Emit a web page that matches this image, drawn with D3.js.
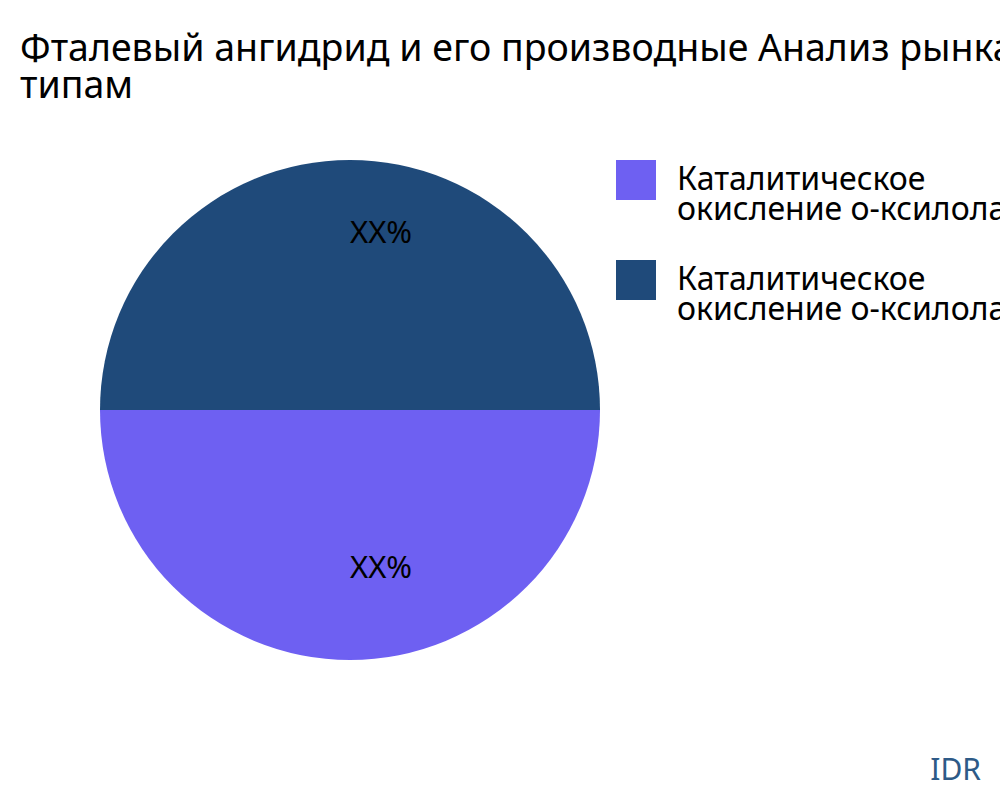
<!DOCTYPE html>
<html>
<head>
<meta charset="utf-8">
<script src="https://cdn.jsdelivr.net/npm/d3@7"></script>
<style>
  body { margin: 0; background: #fff; }
  svg { font-family: "Noto Sans", "Open Sans", sans-serif; }
</style>
</head>
<body>
<svg id="chart" width="1000" height="800"></svg>
<script>
const titleLines = ["Фталевый ангидрид и его производные Анализ рынка по", "типам"];
const categories = ["Каталитическое окисление о-ксилола", "Каталитическое окисление о-ксилола"];
const legendLines = [["Каталитическое", "окисление о-ксилола"], ["Каталитическое", "окисление о-ксилола"]];
const values = [50, 50];
const sliceLabels = ["XX%", "XX%"];
const colors = ["#6e60f2", "#1f4a7a"];

const svg = d3.select("#chart");

// title
svg.append("text")
  .attr("y", 61)
  .attr("font-size", 37.5)
  .attr("fill", "#000")
  .selectAll("tspan")
  .data(titleLines)
  .enter().append("tspan")
  .attr("x", 20)
  .attr("dy", (d, i) => i === 0 ? 0 : 37)
  .text(d => d);

// pie
const cx = 350, cy = 410, radius = 250;
const data = categories.map((c, i) => ({ cat: c, value: values[i], label: sliceLabels[i], color: colors[i] }));

const pie = d3.pie()
  .sort(null)
  .value(d => d.value)
  .startAngle(Math.PI / 2)
  .endAngle(Math.PI * 2.5);

const arc = d3.arc().innerRadius(0).outerRadius(radius);
const labelArc = d3.arc().innerRadius(radius * 0.67).outerRadius(radius * 0.67);

const g = svg.append("g").attr("transform", `translate(${cx},${cy})`);
const arcs = pie(data);

g.selectAll("path")
  .data(arcs)
  .enter().append("path")
  .attr("d", arc)
  .attr("fill", d => d.data.color);

g.selectAll("text.lbl")
  .data(arcs)
  .enter().append("text")
  .attr("class", "lbl")
  .attr("x", d => labelArc.centroid(d)[0])
  .attr("y", d => labelArc.centroid(d)[1])
  .attr("font-size", 31)
  .attr("fill", "#000")
  .text(d => d.data.label);

// legend
const legend = svg.append("g").attr("transform", "translate(616,160)");
const item = legend.selectAll("g")
  .data(data)
  .enter().append("g")
  .attr("transform", (d, i) => `translate(0,${i * 100})`);

item.append("rect")
  .attr("width", 40)
  .attr("height", 40)
  .attr("fill", d => d.color);

item.append("text")
  .attr("font-size", 32)
  .attr("fill", "#000")
  .selectAll("tspan")
  .data((d, i) => legendLines[i])
  .enter().append("tspan")
  .attr("x", 61)
  .attr("y", (d, i) => 30 + i * 30)
  .text(d => d);

// watermark
svg.append("text")
  .attr("x", 981)
  .attr("y", 780)
  .attr("text-anchor", "end")
  .attr("font-size", 30)
  .attr("fill", "#2d5a87")
  .text("IDR");
</script>
</body>
</html>
